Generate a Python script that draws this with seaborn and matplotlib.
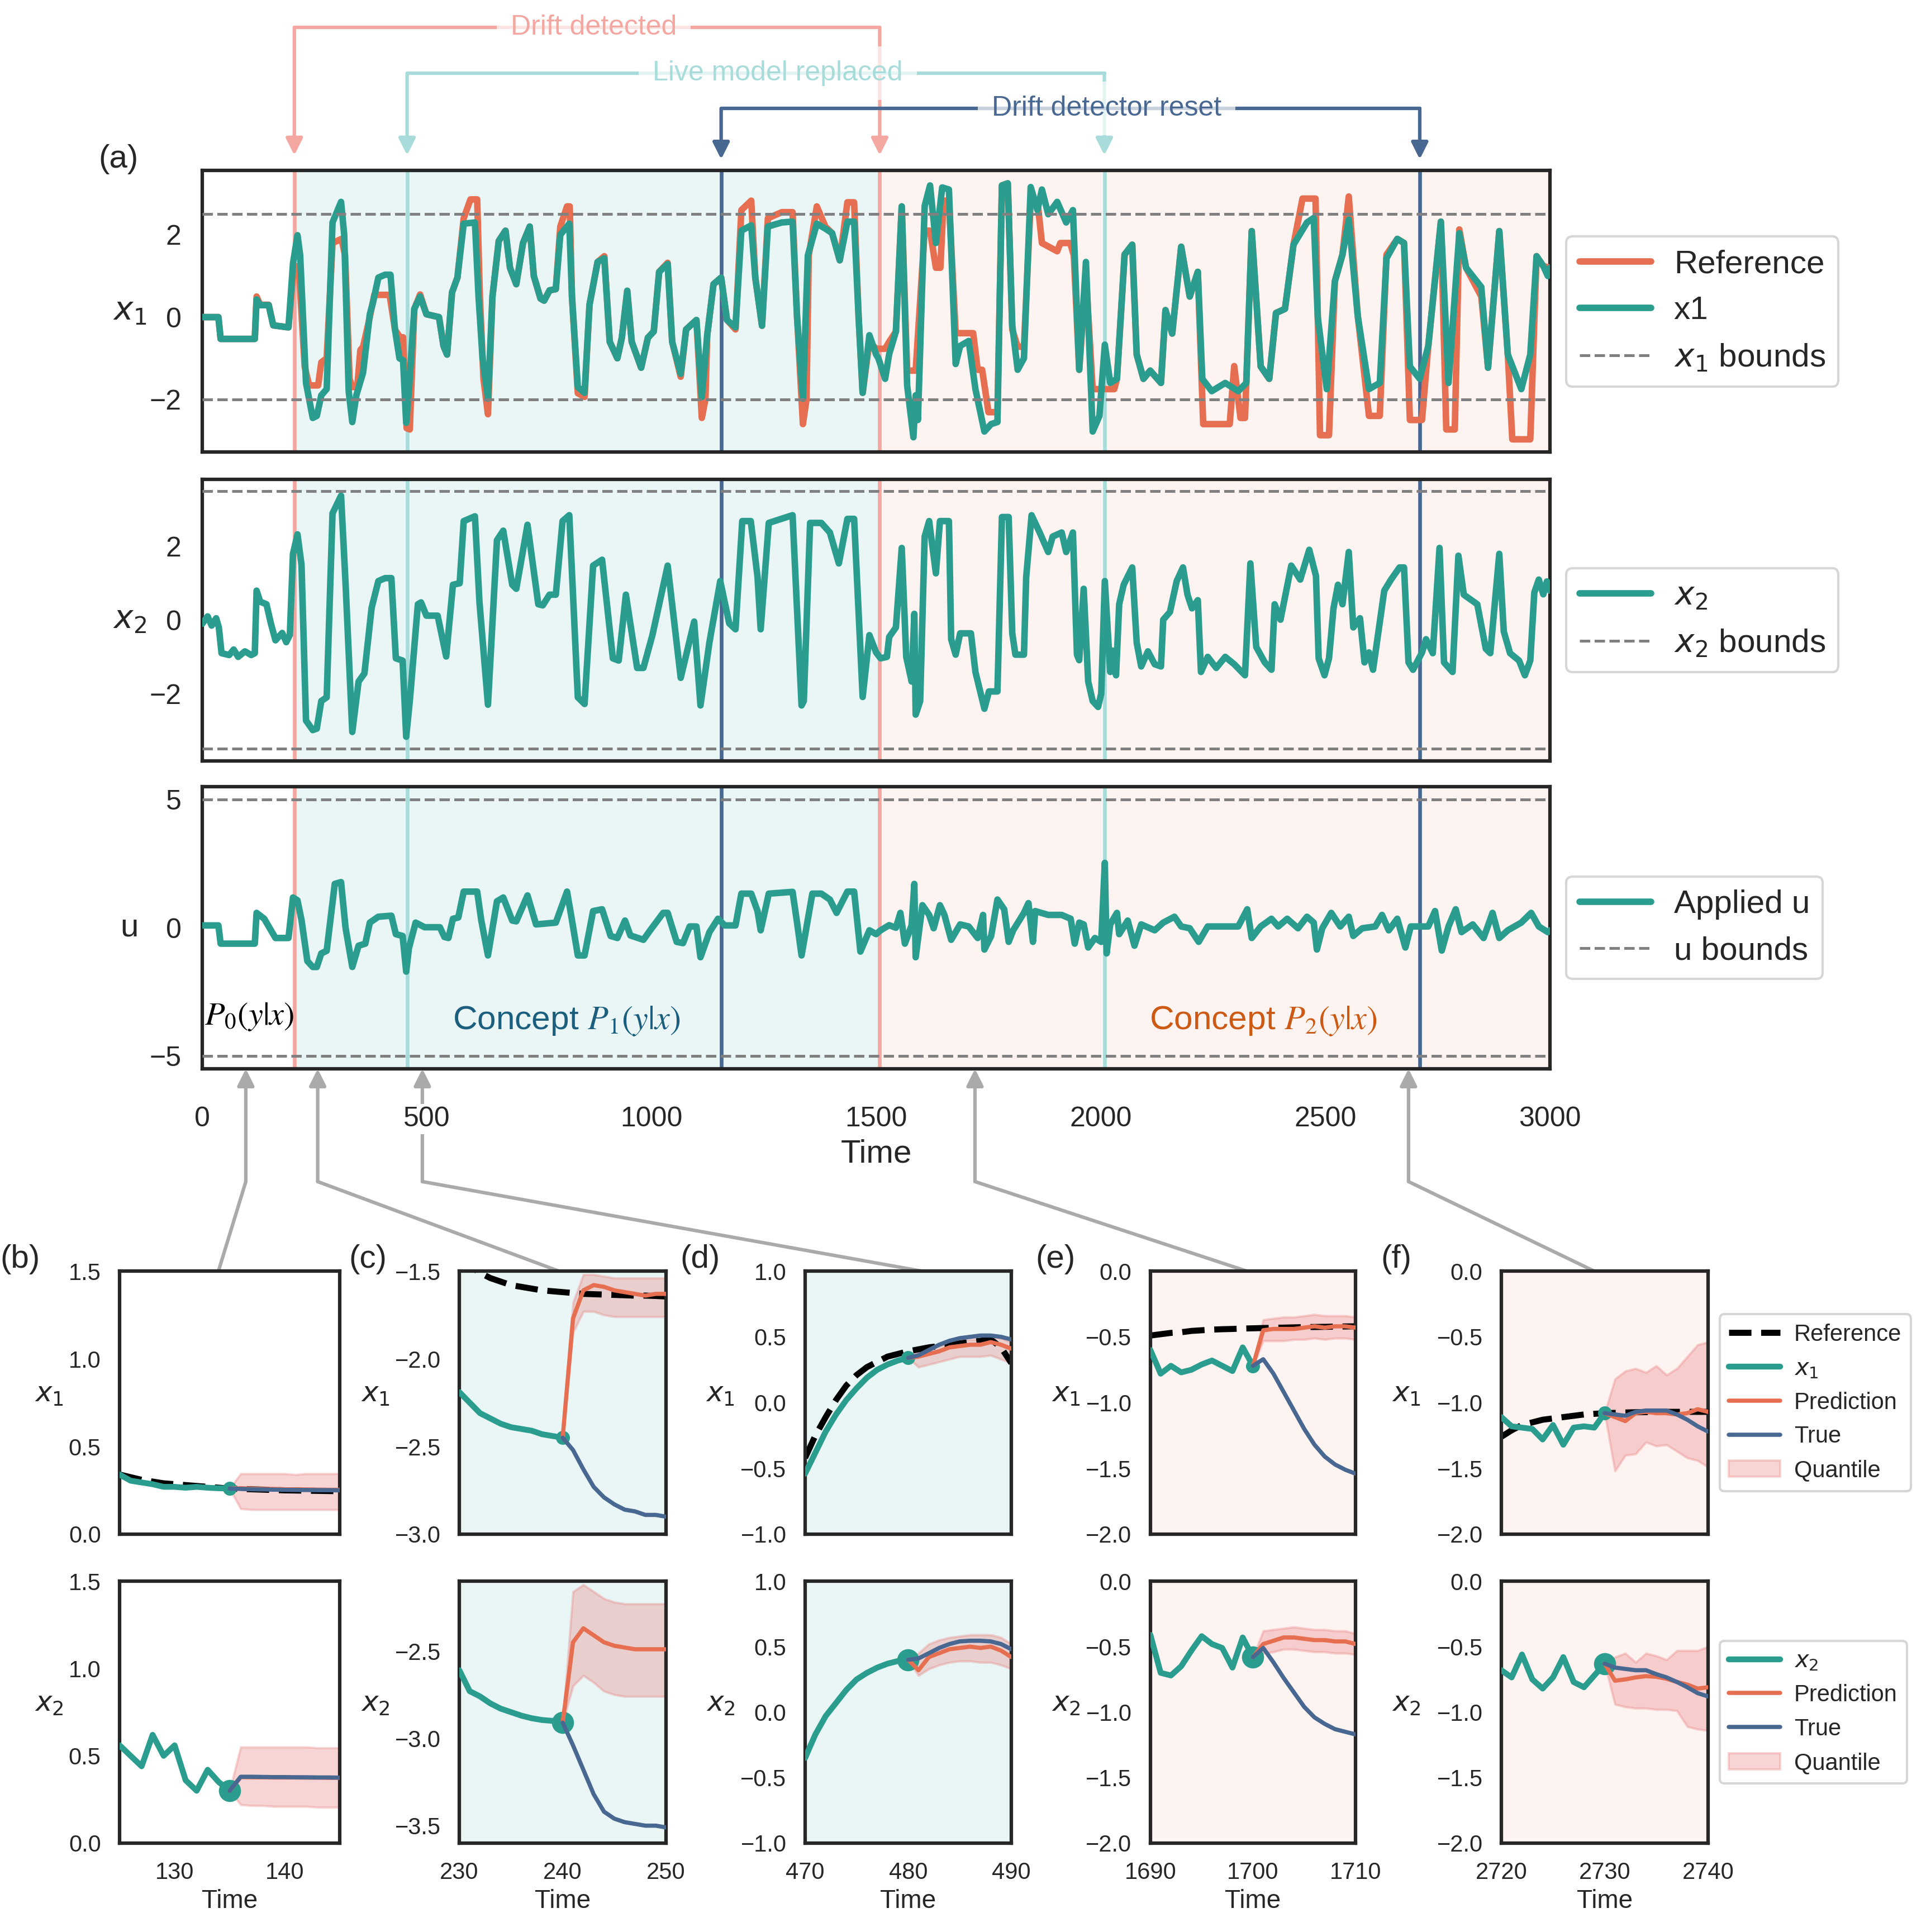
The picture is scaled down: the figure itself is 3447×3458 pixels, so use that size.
import numpy as np
import matplotlib.pyplot as plt
import seaborn as sns
from matplotlib.lines import Line2D
from matplotlib.patches import Patch, FancyArrowPatch
from matplotlib.transforms import blended_transform_factory

sns.set_theme(style='white')
plt.rcParams['font.family'] = ['Liberation Sans', 'DejaVu Sans']

TEAL = '#2A9D8F'
ORANGE = '#E76F51'
BLUE = '#486791'
PINK = '#F4A6A0'
LTEAL = '#A8DCDA'
GREY = '#808080'
QCOL = '#E87676'

# ---- events / bounds ----
drift_detected = [205, 1508]
model_replaced = [456, 2008]
detector_reset = [1155, 2710]
x1_bounds = [-2.0, 2.5]
x2_bounds = [-3.5, 3.5]
u_bounds = [-5.0, 5.0]

# ---- main series (time, value) ----
ref_pts = [(0,0.0),(36,0.0),(41,-0.53),(117,-0.53),(121,0.5),(129,0.3),(148,0.3),(158,-0.2),(192,-0.25),(202,1.0),
    (208,1.24),(215,1.2),(228,-1.2),(238,-1.66),(258,-1.66),(265,-1.1),(277,-1.0),(290,1.8),(310,1.9),(318,1.5),
    (328,-1.5),(334,-1.7),(345,-1.7),(352,-0.8),(358,-0.72),(373,0.0),(383,0.54),(417,0.54),(429,-0.3),(440,-0.49),
    (447,-0.49),(455,-2.7),(462,-2.73),(472,0.2),(485,0.55),(499,0.07),(527,0.0),(537,-0.7),(545,-0.91),(556,0.6),
    (568,0.96),(582,2.4),(597,2.86),(612,2.86),(618,0.5),(626,-1.5),(636,-2.36),(646,0.5),(660,1.85),(675,2.1),
    (685,1.2),(699,0.8),(714,1.8),(729,2.2),(738,1.0),(753,0.45),(761,0.4),(773,0.65),(787,0.68),(797,2.2),
    (812,2.69),(818,2.69),(823,0.5),(836,-1.85),(851,-1.94),(862,0.3),(880,1.34),(895,1.48),(907,-0.6),(924,-1.0),
    (934,-0.5),(946,0.64),(956,-0.6),(977,-1.23),(992,-0.5),(1005,-0.35),(1017,1.1),(1036,1.32),(1046,-0.6),(1065,-1.45),
    (1077,-0.3),(1100,-0.07),(1112,-2.45),(1120,-2.0),(1124,-0.44),(1138,0.8),(1155,0.96),(1168,-0.07),(1187,-0.3),(1200,2.6),
    (1222,2.83),(1231,0.96),(1246,-0.21),(1259,2.4),(1290,2.55),(1314,2.55),(1324,0.0),(1337,-2.6),(1345,-2.0),(1350,1.5),
    (1368,2.69),(1387,2.2),(1402,2.04),(1419,1.38),(1436,2.79),(1451,2.79),(1461,0.0),(1470,-1.84),(1485,-0.6),(1500,-0.77),
    (1520,-0.77),(1529,-0.6),(1544,-0.35),(1557,2.69),(1569,-1.3),(1588,-1.3),(1608,2.1),(1620,2.1),(1633,1.2),(1643,1.2),
    (1650,2.83),(1662,2.83),(1677,-0.39),(1716,-0.39),(1726,-1.28),(1736,-1.28),(1750,-2.31),(1770,-2.31),(1780,3.2),(1793,3.25),
    (1803,-0.3),(1815,-0.72),(1829,-0.72),(1844,2.83),(1859,2.83),(1869,1.8),(1903,1.6),(1910,1.8),(1932,1.8),(1940,1.5),
    (1952,-1.28),(1967,1.0),(1982,-1.75),(2030,-1.75),(2036,-1.5),(2053,1.52),(2070,1.76),(2080,-0.91),(2095,-1.5),(2110,-1.3),
    (2134,-1.6),(2144,0.17),(2159,-0.4),(2179,1.71),(2198,0.5),(2216,1.1),(2228,-2.6),(2287,-2.6),(2297,-1.19),(2311,-2.45),
    (2321,-2.45),(2336,2.09),(2356,-1.2),(2375,-1.5),(2390,0.1),(2410,0.2),(2429,1.76),(2449,2.88),(2478,2.88),(2488,-2.87),
    (2508,-2.87),(2521,0.87),(2538,1.52),(2552,2.93),(2572,0.03),(2597,-2.4),(2621,-2.4),(2636,1.52),(2660,1.9),(2675,1.8),
    (2688,-2.5),(2715,-2.5),(2729,-0.7),(2757,2.32),(2769,-2.73),(2788,-2.73),(2798,2.13),(2813,1.2),(2847,0.5),(2862,-1.23),
    (2887,2.09),(2906,-0.91),(2916,-2.97),(2956,-2.97),(2970,1.48),(2985,1.24),(3000,1.2)]

x1_pts = [(0,0.0),(36,0.0),(41,-0.53),(117,-0.53),(121,0.43),(129,0.29),(148,0.29),(158,-0.2),(192,-0.25),(202,1.3),
    (212,1.99),(218,1.5),(231,-1.6),(246,-2.45),(255,-2.4),(265,-1.9),(277,-1.75),(290,2.3),(309,2.8),(316,2.0),
    (326,-1.8),(334,-2.55),(343,-1.9),(358,-1.35),(373,0.07),(380,0.35),(392,0.96),(407,1.03),(419,1.03),(429,-0.3),
    (439,-1.0),(447,-1.05),(454,-2.57),(460,-1.8),(472,0.2),(485,0.5),(499,0.07),(527,0.0),(537,-0.7),(545,-0.91),
    (556,0.6),(568,0.96),(582,2.27),(607,2.3),(615,0.5),(624,-1.0),(636,-1.98),(646,0.5),(660,1.85),(675,2.1),
    (685,1.2),(699,0.8),(714,1.8),(729,2.2),(738,1.0),(753,0.45),(761,0.4),(773,0.65),(787,0.68),(797,2.0),
    (817,2.27),(823,0.5),(836,-1.7),(851,-1.84),(862,0.3),(880,1.34),(895,1.43),(907,-0.6),(924,-1.0),(934,-0.5),
    (946,0.64),(956,-0.6),(977,-1.23),(992,-0.5),(1005,-0.35),(1017,1.1),(1036,1.29),(1046,-0.6),(1065,-1.38),(1077,-0.3),
    (1100,-0.07),(1112,-1.94),(1124,-0.44),(1138,0.8),(1155,0.96),(1168,-0.07),(1187,-0.25),(1200,2.1),(1222,2.23),(1231,0.96),
    (1246,-0.21),(1259,2.2),(1290,2.3),(1314,2.32),(1324,0.0),(1337,-1.98),(1348,1.5),(1368,2.27),(1387,2.15),(1402,2.04),
    (1419,1.38),(1436,2.32),(1451,2.32),(1461,0.0),(1470,-1.84),(1485,-0.44),(1500,-0.91),(1505,-1.0),(1520,-1.5),(1529,-0.9),
    (1544,-0.35),(1557,2.69),(1569,-1.66),(1583,-2.92),(1588,-1.9),(1593,-2.5),(1608,2.7),(1620,3.2),(1633,1.8),(1647,3.15),
    (1662,3.1),(1677,-1.14),(1687,-0.7),(1706,-0.58),(1721,-1.75),(1741,-2.78),(1756,-2.6),(1770,-2.55),(1780,3.2),(1793,3.25),
    (1803,-0.2),(1815,-1.28),(1829,-1.0),(1844,3.16),(1859,2.6),(1869,3.1),(1883,2.5),(1903,2.8),(1923,2.3),(1938,2.6),
    (1952,-1.28),(1967,1.34),(1982,-2.78),(1997,-2.4),(2009,-0.67),(2021,-1.6),(2036,-1.5),(2053,1.52),(2070,1.76),(2080,-0.91),
    (2095,-1.5),(2110,-1.3),(2134,-1.6),(2144,0.17),(2159,-0.4),(2179,1.71),(2198,0.5),(2216,1.1),(2226,-1.5),(2247,-1.8),
    (2277,-1.6),(2306,-1.8),(2324,-1.6),(2336,2.09),(2356,-1.2),(2375,-1.5),(2390,0.1),(2410,0.2),(2429,1.76),(2459,2.3),
    (2474,2.41),(2483,0.0),(2503,-1.75),(2521,0.87),(2538,1.52),(2552,2.37),(2572,0.03),(2597,-1.75),(2621,-1.6),(2636,1.43),
    (2660,1.9),(2675,1.8),(2688,-1.2),(2710,-1.5),(2729,-0.7),(2757,2.32),(2774,-1.6),(2798,2.04),(2813,1.2),(2847,0.73),
    (2862,-1.23),(2887,2.09),(2906,-0.91),(2936,-1.75),(2956,-0.91),(2970,1.48),(2985,1.24),(2995,1.0),(3000,1.2)]

x2_pts = [(0,-0.1),(12,0.1),(21,-0.15),(31,0.05),(37,-0.2),(43,-0.9),(60,-0.95),(70,-0.8),(80,-1.0),(95,-0.85),
    (109,-0.95),(117,-0.9),(121,0.8),(129,0.5),(143,0.43),(153,-0.1),(163,-0.55),(178,-0.35),(187,-0.6),(195,-0.4),
    (202,1.8),(212,2.33),(221,1.5),(231,-2.73),(246,-2.99),(255,-2.95),(265,-2.2),(277,-2.1),(290,2.9),(309,3.38),
    (319,1.0),(334,-3.04),(348,-1.67),(361,-1.45),(377,0.33),(392,1.06),(407,1.14),(421,1.14),(431,-1.04),(446,-1.1),
    (454,-3.17),(462,-2.2),(480,0.43),(487,0.48),(499,0.12),(524,0.12),(543,-0.99),(558,0.96),(573,1.0),(582,2.69),
    (607,2.82),(617,0.5),(636,-2.3),(656,2.17),(670,2.43),(690,0.96),(699,0.85),(724,2.59),(748,0.43),(758,0.4),
    (773,0.69),(787,0.69),(802,2.69),(817,2.85),(836,-2.1),(851,-2.28),(870,1.48),(890,1.64),(914,-1.04),(927,-1.1),
    (943,0.69),(968,-1.3),(982,-1.3),(1002,-0.41),(1036,1.48),(1065,-1.57),(1095,-0.04),(1109,-2.32),(1129,-0.6),(1153,1.06),
    (1173,-0.09),(1187,-0.25),(1202,2.69),(1221,2.69),(1236,1.17),(1243,-0.25),(1261,2.64),(1314,2.85),(1334,-2.32),(1339,-2.2),
    (1353,2.64),(1378,2.64),(1397,2.38),(1417,1.54),(1436,2.75),(1451,2.75),(1470,-2.09),(1485,-0.41),(1500,-0.88),(1510,-1.04),
    (1524,-1.0),(1529,-0.46),(1544,-0.2),(1557,1.96),(1567,-1.0),(1579,-1.67),(1585,0.17),(1588,-2.57),(1598,-2.2),(1608,2.27),
    (1618,2.69),(1633,1.27),(1642,2.69),(1662,2.69),(1667,-0.52),(1677,-0.94),(1687,-0.36),(1711,-0.36),(1721,-1.41),(1741,-2.41),
    (1751,-1.94),(1770,-1.94),(1780,2.8),(1795,2.8),(1803,-0.36),(1810,-0.94),(1829,-0.94),(1834,1.17),(1846,2.85),(1864,2.38),
    (1883,1.85),(1893,2.27),(1913,2.38),(1923,1.85),(1938,2.38),(1947,-0.94),(1952,-1.09),(1962,0.85),(1972,-1.67),(1982,-2.2),
    (1994,-2.36),(2001,-2.0),(2009,1.06),(2021,-1.41),(2026,-0.83),(2034,-1.5),(2041,0.43),(2051,0.96),(2070,1.43),(2080,-0.62),
    (2090,-1.26),(2105,-0.85),(2120,-1.2),(2134,-1.26),(2139,0.01),(2154,0.22),(2169,1.06),(2183,1.43),(2193,0.69),(2203,0.32),
    (2216,0.54),(2223,-1.41),(2238,-1.0),(2257,-1.3),(2277,-1.0),(2297,-1.2),(2321,-1.5),(2333,1.54),(2346,-0.73),(2365,-1.15),
    (2380,-1.35),(2387,0.43),(2400,0.01),(2424,1.48),(2444,1.1),(2464,1.91),(2479,1.2),(2485,-1.04),(2498,-1.5),(2508,-1.04),
    (2518,0.32),(2528,0.96),(2538,0.43),(2552,1.85),(2562,-0.2),(2577,0.05),(2587,-1.15),(2597,-0.88),(2606,-1.35),(2631,0.8),
    (2646,1.1),(2665,1.43),(2675,1.43),(2685,-1.15),(2695,-1.35),(2715,-0.88),(2724,-0.52),(2739,-0.9),(2754,1.96),(2764,-1.15),
    (2783,-1.41),(2796,1.75),(2808,0.69),(2838,0.43),(2857,-0.78),(2867,-0.9),(2887,1.8),(2897,-0.31),(2911,-0.9),(2931,-1.1),
    (2944,-1.5),(2956,-1.1),(2965,0.75),(2975,1.1),(2985,0.7),(2993,1.05),(3000,0.8)]

u_pts = [(0,0.09),(36,0.09),(41,-0.62),(117,-0.62),(121,0.58),(138,0.35),(153,-0.1),(163,-0.4),(192,-0.4),(202,1.18),
    (212,1.07),(221,0.3),(234,-1.3),(246,-1.53),(255,-1.53),(265,-1.0),(277,-0.9),(295,1.71),(309,1.78),(319,0.0),
    (334,-1.53),(348,-0.7),(363,-0.62),(373,0.2),(392,0.43),(421,0.47),(431,-0.25),(446,-0.32),(454,-1.71),(460,-0.8),
    (475,0.2),(495,0.02),(529,0.02),(539,-0.36),(548,-0.4),(558,0.35),(570,0.4),(582,1.41),(612,1.41),(621,0.3),
    (636,-1.08),(656,1.03),(670,1.18),(690,0.28),(699,0.25),(724,1.26),(743,0.13),(787,0.2),(812,1.41),(821,0.5),
    (836,-1.08),(851,-1.08),(870,0.65),(890,0.72),(909,-0.32),(924,-0.4),(941,0.28),(953,-0.3),(982,-0.47),(997,-0.1),
    (1026,0.58),(1036,0.58),(1056,-0.55),(1070,-0.6),(1085,0.05),(1100,0.05),(1109,-1.15),(1129,-0.17),(1148,0.35),(1163,0.09),
    (1187,0.09),(1200,1.33),(1222,1.33),(1236,0.65),(1243,-0.1),(1261,1.33),(1314,1.4),(1324,0.2),(1334,-1.08),(1358,1.33),
    (1378,1.33),(1397,1.1),(1412,0.58),(1436,1.41),(1451,1.41),(1465,-0.93),(1485,-0.1),(1500,-0.25),(1510,-0.1),(1529,0.1),
    (1544,0.0),(1554,0.58),(1564,-0.62),(1579,0.1),(1585,1.71),(1588,-1.15),(1603,0.88),(1618,0.5),(1628,-0.02),(1642,0.88),
    (1652,0.5),(1667,-0.47),(1687,0.13),(1706,0.05),(1726,-0.4),(1738,0.5),(1741,-0.85),(1756,-0.32),(1770,1.1),(1785,0.72),
    (1795,-0.55),(1805,-0.1),(1829,0.58),(1839,0.96),(1849,-0.55),(1854,0.65),(1883,0.5),(1913,0.5),(1933,0.35),(1942,-0.62),
    (1952,0.2),(1962,0.13),(1972,-0.77),(1987,-0.4),(2001,-0.55),(2009,2.53),(2013,-1.0),(2021,0.13),(2036,0.58),(2041,-0.25),
    (2060,0.28),(2075,-0.7),(2090,0.13),(2120,-0.1),(2139,0.2),(2164,0.43),(2179,0.05),(2198,-0.02),(2218,-0.55),(2238,0.05),
    (2277,0.05),(2306,0.05),(2326,0.72),(2336,-0.4),(2356,0.05),(2380,0.35),(2395,0.05),(2415,0.35),(2439,-0.02),(2459,0.43),
    (2474,0.2),(2481,-0.85),(2493,-0.02),(2513,0.58),(2533,0.05),(2552,0.43),(2562,-0.32),(2582,-0.02),(2611,0.05),(2626,0.5),
    (2641,-0.1),(2660,0.35),(2678,-0.77),(2690,0.05),(2729,0.05),(2744,0.65),(2759,-0.89),(2774,0.05),(2790,0.72),(2803,-0.17),
    (2828,0.13),(2852,-0.4),(2872,0.58),(2887,-0.4),(2906,-0.1),(2936,0.2),(2958,0.58),(2975,0.05),(2995,-0.17),(3000,-0.1)]

# ---- zoom windows: start of 20-step window; forecast starts 10 steps in ----
win_start = [125, 230, 470, 1690, 2720]

b_ref = [0.34,0.325,0.31,0.30,0.29,0.285,0.28,0.275,0.27,0.265,0.26,0.258,0.256,0.254,0.252,0.25,0.249,0.248,0.247,0.246,0.245]
b_x1 = [0.34,0.305,0.295,0.285,0.27,0.27,0.265,0.27,0.265,0.262,0.26]
b_x1_pred = [0.26,0.262,0.26,0.258,0.258,0.256,0.255,0.255,0.254,0.253,0.253]
b_x1_true = [0.26,0.258,0.256,0.255,0.254,0.253,0.252,0.252,0.251,0.251,0.25]
b_x1_lo = [0.26,0.145,0.14,0.14,0.14,0.14,0.14,0.14,0.14,0.14,0.14]
b_x1_hi = [0.26,0.345,0.345,0.345,0.345,0.345,0.34,0.345,0.345,0.345,0.345]
b_x2 = [0.56,0.50,0.44,0.62,0.50,0.56,0.36,0.30,0.42,0.35,0.30]
b_x2_pred = [0.30,0.378,0.377,0.377,0.376,0.376,0.376,0.375,0.375,0.374,0.374]
b_x2_true = [0.30,0.38,0.38,0.379,0.378,0.378,0.377,0.377,0.376,0.376,0.375]
b_x2_lo = [0.30,0.22,0.215,0.215,0.21,0.21,0.21,0.21,0.205,0.205,0.205]
b_x2_hi = [0.30,0.55,0.55,0.55,0.55,0.55,0.55,0.55,0.545,0.545,0.545]

c_ref = [-1.42,-1.47,-1.51,-1.54,-1.56,-1.58,-1.59,-1.60,-1.61,-1.615,-1.62,-1.625,-1.63,-1.632,-1.634,-1.636,-1.638,-1.64,-1.64,-1.642,-1.645]
c_x1 = [-2.19,-2.25,-2.31,-2.34,-2.37,-2.39,-2.40,-2.41,-2.43,-2.44,-2.45]
c_x1_pred = [-2.45,-1.77,-1.61,-1.58,-1.59,-1.61,-1.62,-1.63,-1.64,-1.63,-1.63]
c_x1_true = [-2.45,-2.52,-2.63,-2.73,-2.79,-2.83,-2.86,-2.87,-2.89,-2.89,-2.90]
c_x1_lo = [-2.45,-1.85,-1.73,-1.73,-1.75,-1.76,-1.76,-1.76,-1.76,-1.76,-1.76]
c_x1_hi = [-2.45,-1.68,-1.52,-1.52,-1.53,-1.54,-1.54,-1.54,-1.54,-1.54,-1.54]
c_x2 = [-2.61,-2.73,-2.76,-2.80,-2.83,-2.85,-2.87,-2.885,-2.895,-2.90,-2.91]
c_x2_pred = [-2.91,-2.45,-2.37,-2.41,-2.45,-2.47,-2.48,-2.49,-2.49,-2.49,-2.49]
c_x2_true = [-2.91,-3.04,-3.18,-3.32,-3.42,-3.46,-3.48,-3.49,-3.50,-3.50,-3.51]
c_x2_lo = [-2.91,-2.70,-2.64,-2.68,-2.73,-2.75,-2.76,-2.76,-2.76,-2.76,-2.76]
c_x2_hi = [-2.91,-2.16,-2.12,-2.16,-2.20,-2.22,-2.23,-2.23,-2.23,-2.23,-2.23]

d_ref = [-0.42,-0.25,-0.11,0.02,0.13,0.21,0.27,0.31,0.35,0.37,0.39,0.405,0.42,0.43,0.44,0.45,0.46,0.47,0.48,0.42,0.30]
d_x1 = [-0.54,-0.38,-0.22,-0.09,0.02,0.11,0.19,0.25,0.29,0.32,0.34]
d_x1_pred = [0.34,0.35,0.37,0.39,0.42,0.43,0.44,0.44,0.46,0.44,0.41]
d_x1_true = [0.34,0.36,0.40,0.44,0.47,0.49,0.50,0.51,0.51,0.50,0.48]
d_x1_lo = [0.34,0.27,0.29,0.31,0.33,0.35,0.35,0.35,0.36,0.33,0.30]
d_x1_hi = [0.34,0.39,0.41,0.43,0.46,0.47,0.48,0.48,0.50,0.49,0.46]
d_x2 = [-0.35,-0.17,-0.03,0.07,0.17,0.25,0.30,0.34,0.37,0.39,0.40]
d_x2_pred = [0.40,0.32,0.42,0.45,0.48,0.49,0.50,0.49,0.50,0.47,0.42]
d_x2_true = [0.40,0.41,0.45,0.49,0.52,0.54,0.545,0.545,0.54,0.52,0.48]
d_x2_lo = [0.40,0.28,0.33,0.36,0.38,0.39,0.39,0.38,0.38,0.36,0.33]
d_x2_hi = [0.40,0.45,0.52,0.55,0.57,0.58,0.59,0.59,0.59,0.57,0.52]

e_ref = [-0.49,-0.48,-0.47,-0.465,-0.455,-0.45,-0.445,-0.442,-0.44,-0.437,-0.435,-0.433,-0.431,-0.43,-0.428,-0.426,-0.425,-0.424,-0.422,-0.421,-0.42]
e_x1 = [-0.60,-0.78,-0.72,-0.77,-0.75,-0.71,-0.68,-0.72,-0.76,-0.58,-0.72]
e_x1_pred = [-0.72,-0.45,-0.44,-0.44,-0.44,-0.43,-0.42,-0.43,-0.42,-0.42,-0.43]
e_x1_true = [-0.72,-0.67,-0.78,-0.92,-1.06,-1.20,-1.32,-1.41,-1.47,-1.51,-1.54]
e_x1_lo = [-0.72,-0.53,-0.53,-0.53,-0.52,-0.52,-0.51,-0.52,-0.51,-0.51,-0.52]
e_x1_hi = [-0.72,-0.37,-0.36,-0.35,-0.35,-0.34,-0.33,-0.34,-0.34,-0.34,-0.35]
e_x2 = [-0.41,-0.70,-0.72,-0.65,-0.53,-0.42,-0.48,-0.51,-0.66,-0.43,-0.58]
e_x2_pred = [-0.58,-0.48,-0.455,-0.43,-0.43,-0.44,-0.45,-0.45,-0.46,-0.46,-0.48]
e_x2_true = [-0.58,-0.51,-0.62,-0.74,-0.85,-0.96,-1.04,-1.09,-1.13,-1.15,-1.17]
e_x2_lo = [-0.58,-0.55,-0.54,-0.52,-0.52,-0.53,-0.54,-0.54,-0.55,-0.55,-0.56]
e_x2_hi = [-0.58,-0.38,-0.37,-0.36,-0.35,-0.36,-0.37,-0.37,-0.38,-0.38,-0.40]

f_ref = [-1.26,-1.21,-1.17,-1.15,-1.13,-1.12,-1.11,-1.10,-1.09,-1.085,-1.08,-1.078,-1.075,-1.073,-1.072,-1.07,-1.07,-1.07,-1.07,-1.07,-1.07]
f_x1 = [-1.11,-1.18,-1.19,-1.20,-1.28,-1.17,-1.32,-1.19,-1.18,-1.19,-1.08]
f_x1_pred = [-1.08,-1.11,-1.14,-1.08,-1.07,-1.08,-1.08,-1.09,-1.08,-1.05,-1.07]
f_x1_true = [-1.08,-1.09,-1.10,-1.07,-1.06,-1.06,-1.06,-1.09,-1.13,-1.18,-1.22]
f_x1_lo = [-1.08,-1.52,-1.40,-1.39,-1.30,-1.33,-1.32,-1.37,-1.42,-1.44,-1.49]
f_x1_hi = [-1.08,-0.82,-0.76,-0.74,-0.77,-0.72,-0.79,-0.74,-0.65,-0.56,-0.54]
f_x2 = [-0.68,-0.735,-0.56,-0.75,-0.82,-0.735,-0.58,-0.77,-0.81,-0.72,-0.63]
f_x2_pred = [-0.63,-0.76,-0.75,-0.735,-0.725,-0.73,-0.745,-0.77,-0.79,-0.82,-0.81]
f_x2_true = [-0.63,-0.66,-0.67,-0.68,-0.68,-0.71,-0.735,-0.77,-0.81,-0.855,-0.88]
f_x2_lo = [-0.63,-0.94,-0.96,-0.97,-0.97,-0.98,-0.98,-0.99,-1.11,-1.13,-1.14]
f_x2_hi = [-0.63,-0.58,-0.55,-0.62,-0.55,-0.57,-0.60,-0.53,-0.53,-0.53,-0.50]

# times in the main plot that the zoom arrows point at
arrow_times = [97, 257, 490, 1720, 2685]


def style_axes(ax):
    for s in ax.spines.values():
        s.set_linewidth(1.5)
        s.set_color('.15')


fig = plt.figure(figsize=(3447 / 300, 3458 / 300), dpi=300)

ax1 = fig.add_axes([0.1050, 0.7660, 0.6998, 0.1457])
ax2 = fig.add_axes([0.1050, 0.6061, 0.6998, 0.1459])
ax3 = fig.add_axes([0.1050, 0.4468, 0.6998, 0.1460])

series = [
    (ax1, x1_pts, x1_bounds, (-3.28, 3.56), [-2, 0, 2], '$x_1$'),
    (ax2, x2_pts, x2_bounds, (-3.83, 3.83), [-2, 0, 2], '$x_2$'),
    (ax3, u_pts, u_bounds, (-5.5, 5.5), [-5, 0, 5], 'u'),
]

for ax, pts, bounds, ylim, yt, ylab in series:
    ax.axvspan(drift_detected[0], drift_detected[1], color=LTEAL, alpha=0.25, lw=0, zorder=0)
    ax.axvspan(drift_detected[1], 3000, color=ORANGE, alpha=0.07, lw=0, zorder=0)
    for t in drift_detected:
        ax.axvline(t, color=PINK, lw=1.6, zorder=1)
    for t in model_replaced:
        ax.axvline(t, color=LTEAL, lw=1.6, zorder=1)
    for t in detector_reset:
        ax.axvline(t, color=BLUE, lw=1.6, zorder=1)
    if ax is ax1:
        rt, rv = np.array(ref_pts).T
        sns.lineplot(x=rt, y=rv, ax=ax, color=ORANGE, linewidth=2.8, estimator=None, zorder=3)
    st, sv = np.array(pts).T
    sns.lineplot(x=st, y=sv, ax=ax, color=TEAL, linewidth=2.8, estimator=None, zorder=4)
    for b in bounds:
        ax.axhline(b, color=GREY, ls='--', lw=1.2, zorder=5)
    ax.set_xlim(0, 3000)
    ax.set_ylim(*ylim)
    ax.set_yticks(yt)
    ax.set_xticks([0, 500, 1000, 1500, 2000, 2500, 3000])
    ax.tick_params(axis='both', length=0, labelsize=12)
    ax.tick_params(axis='y', pad=9)
    ax.set_ylabel(ylab, rotation=0, fontsize=14, ha='center', va='center')
    ax.yaxis.set_label_coords(-0.054, 0.5)
    style_axes(ax)

ax1.tick_params(labelbottom=False)
ax2.tick_params(labelbottom=False)
ax1.set_xlabel('')
ax2.set_xlabel('')
ax3.tick_params(axis='x', pad=16)
ax3.set_xlabel('Time', fontsize=14, labelpad=3)
for lab in ax3.get_xticklabels():
    lab.set_bbox(dict(facecolor='white', edgecolor='none', pad=1))

leg_kw = dict(loc='center left', bbox_to_anchor=(1.0, 0.5), fontsize=14, handlelength=2.2, handletextpad=0.7)
ax1.legend(handles=[Line2D([], [], color=ORANGE, lw=2.8), Line2D([], [], color=TEAL, lw=2.8),
                    Line2D([], [], color=GREY, ls='--', lw=1.2)],
           labels=['Reference', 'x1', '$x_1$ bounds'], **leg_kw)
ax2.legend(handles=[Line2D([], [], color=TEAL, lw=2.8), Line2D([], [], color=GREY, ls='--', lw=1.2)],
           labels=['$x_2$', '$x_2$ bounds'], **leg_kw)
ax3.legend(handles=[Line2D([], [], color=TEAL, lw=2.8), Line2D([], [], color=GREY, ls='--', lw=1.2)],
           labels=['Applied u', 'u bounds'], **leg_kw)

# concept labels
ax3.text(5, -3.47, '$P_0(y|x)$', fontsize=14, ha='left', va='center', color='black', math_fontfamily='stix')
ax3.text(810, -3.63, 'Concept $P_1(y|x)$', fontsize=14.5, ha='center', va='center', color='#1B5E7E', math_fontfamily='stix')
ax3.text(2361, -3.63, 'Concept $P_2(y|x)$', fontsize=14.5, ha='center', va='center', color='#CC5A14', math_fontfamily='stix')

# event brackets above the top panel
trans = blended_transform_factory(ax1.transData, ax1.transAxes)
brackets = [
    (drift_detected, 'Drift detected', PINK, 1.5085, 1.0546, 871),
    (model_replaced, 'Live model replaced', LTEAL, 1.3458, 1.0546, 1281),
    (detector_reset, 'Drift detector reset', BLUE, 1.2208, 1.0403, 2013),
]
for (ta, tb), label, col, yh, ytip, tc in brackets:
    ax1.plot([ta, tb], [yh, yh], transform=trans, color=col, lw=1.5, clip_on=False, zorder=2)
    for t in (ta, tb):
        ax1.annotate('', xy=(t, ytip), xytext=(t, yh), xycoords=trans, textcoords=trans,
                     arrowprops=dict(arrowstyle='-|>,head_length=0.4,head_width=0.2', color=col, lw=1.5,
                                     shrinkA=0, shrinkB=0, mutation_scale=15), zorder=2)
    ax1.text(tc, yh, label, transform=trans, ha='center', va='center', fontsize=12, color=col, zorder=6,
             bbox=dict(boxstyle='square,pad=0.5', facecolor='white', edgecolor='none', alpha=0.7), clip_on=False)
ax1.set_xlim(0, 3000)
ax1.set_ylim(-3.28, 3.56)

# ---- zoom panels ----
lefts = [0.0621, 0.2385, 0.4180, 0.5973, 0.7795]
widths = [0.1143, 0.1073, 0.1071, 0.1065, 0.1073]
faces = [None, LTEAL, LTEAL, ORANGE, ORANGE]
face_alpha = [0, 0.25, 0.25, 0.07, 0.07]
ylab_x = [-0.32, -0.405, -0.41, -0.41, -0.46]
letters = ['(b)', '(c)', '(d)', '(e)', '(f)']
letter_x = [0.0, 0.181, 0.3532, 0.5378, 0.7169]
arrow_ends = [0.449, 0.481, 0.564, 0.469, 0.449]

top_data = [
    (b_ref, b_x1, b_x1_pred, b_x1_true, b_x1_lo, b_x1_hi),
    (c_ref, c_x1, c_x1_pred, c_x1_true, c_x1_lo, c_x1_hi),
    (d_ref, d_x1, d_x1_pred, d_x1_true, d_x1_lo, d_x1_hi),
    (e_ref, e_x1, e_x1_pred, e_x1_true, e_x1_lo, e_x1_hi),
    (f_ref, f_x1, f_x1_pred, f_x1_true, f_x1_lo, f_x1_hi),
]
bot_data = [
    (b_x2, b_x2_pred, b_x2_true, b_x2_lo, b_x2_hi),
    (c_x2, c_x2_pred, c_x2_true, c_x2_lo, c_x2_hi),
    (d_x2, d_x2_pred, d_x2_true, d_x2_lo, d_x2_hi),
    (e_x2, e_x2_pred, e_x2_true, e_x2_lo, e_x2_hi),
    (f_x2, f_x2_pred, f_x2_true, f_x2_lo, f_x2_hi),
]
top_ylims = [(0, 1.5), (-3.0, -1.5), (-1, 1), (-2, 0), (-2, 0)]
top_yticks = [[0, 0.5, 1.0, 1.5], [-3.0, -2.5, -2.0, -1.5], [-1, -0.5, 0, 0.5, 1], [-2, -1.5, -1, -0.5, 0], [-2, -1.5, -1, -0.5, 0]]
bot_ylims = [(0, 1.5), (-3.6, -2.1), (-1, 1), (-2, 0), (-2, 0)]
bot_yticks = [[0, 0.5, 1.0, 1.5], [-3.5, -3.0, -2.5], [-1, -0.5, 0, 0.5, 1], [-2, -1.5, -1, -0.5, 0], [-2, -1.5, -1, -0.5, 0]]


def draw_zoom(ax, ws, ref, hist, pred, true, lo, hi, ms):
    t_all = np.arange(ws, ws + 21)
    t_hist = np.arange(ws, ws + 11)
    t_fc = np.arange(ws + 10, ws + 21)
    if ref is not None:
        sns.lineplot(x=t_all, y=ref, ax=ax, color='black', linewidth=2.6, linestyle='--', estimator=None, zorder=2)
    ax.fill_between(t_fc, lo, hi, color=QCOL, alpha=0.3, lw=1, zorder=1)
    sns.lineplot(x=t_hist, y=hist, ax=ax, color=TEAL, linewidth=2.5, estimator=None, zorder=3)
    ax.plot([t_hist[-1]], [hist[-1]], 'o', color=TEAL, ms=ms, mew=0, zorder=4)
    sns.lineplot(x=t_fc, y=pred, ax=ax, color=ORANGE, linewidth=1.8, estimator=None, zorder=5)
    sns.lineplot(x=t_fc, y=true, ax=ax, color=BLUE, linewidth=1.8, estimator=None, zorder=6)
    ax.set_xlim(ws, ws + 20)


top_axes = []
for i in range(5):
    ws = win_start[i]
    axt = fig.add_axes([lefts[i], 0.2059, widths[i], 0.1362])
    axb = fig.add_axes([lefts[i], 0.0460, widths[i], 0.1356])
    top_axes.append(axt)
    for ax in (axt, axb):
        if faces[i] is not None:
            ax.axvspan(ws, ws + 20, color=faces[i], alpha=face_alpha[i], lw=0, zorder=0)
    ref, hist, pred, true, lo, hi = top_data[i]
    draw_zoom(axt, ws, ref, hist, pred, true, lo, hi, 6)
    hist, pred, true, lo, hi = bot_data[i]
    draw_zoom(axb, ws, None, hist, pred, true, lo, hi, 9.5)
    axt.set_ylim(*top_ylims[i])
    axt.set_yticks(top_yticks[i])
    axb.set_ylim(*bot_ylims[i])
    axb.set_yticks(bot_yticks[i])
    ticks = [130, 140] if i == 0 else [ws, ws + 10, ws + 20]
    for ax, ylab in ((axt, '$x_1$'), (axb, '$x_2$')):
        ax.set_xticks(ticks)
        ax.tick_params(axis='both', length=0, labelsize=10, pad=8)
        ax.set_ylabel(ylab, rotation=0, fontsize=12, ha='center', va='center')
        ax.yaxis.set_label_coords(ylab_x[i], 0.53)
        style_axes(ax)
    axt.tick_params(labelbottom=False)
    axt.set_xlabel('')
    axb.set_xlabel('Time', fontsize=11, labelpad=2)
    fig.text(letter_x[i], 0.3482, letters[i], fontsize=14, ha='left', va='center')

    if i == 4:
        small_leg = dict(loc='center left', bbox_to_anchor=(1.0, 0.5), fontsize=10, handlelength=2.2, handletextpad=0.6)
        axt.legend(handles=[Line2D([], [], color='black', lw=2.6, ls='--'), Line2D([], [], color=TEAL, lw=2.5),
                            Line2D([], [], color=ORANGE, lw=1.8), Line2D([], [], color=BLUE, lw=1.8),
                            Patch(facecolor=QCOL, alpha=0.3, edgecolor=QCOL)],
                   labels=['Reference', '$x_1$', 'Prediction', 'True', 'Quantile'], **small_leg)
        axb.legend(handles=[Line2D([], [], color=TEAL, lw=2.5), Line2D([], [], color=ORANGE, lw=1.8),
                            Line2D([], [], color=BLUE, lw=1.8), Patch(facecolor=QCOL, alpha=0.3, edgecolor=QCOL)],
                   labels=['$x_2$', 'Prediction', 'True', 'Quantile'], **small_leg)

fig.text(0.0512, 0.9177, '(a)', fontsize=14, ha='left', va='center')

# ---- grey arrows from zoom panels to the main time axis ----
inv = fig.transFigure.inverted()
bend_y = 0.3884
for axt, ta, fx in zip(top_axes, arrow_times, arrow_ends):
    tip = inv.transform(ax3.transData.transform((ta, -5.5)))
    end = inv.transform(axt.transAxes.transform((fx, 1.0)))
    fig.add_artist(Line2D([end[0], tip[0]], [end[1], bend_y], transform=fig.transFigure,
                          color='#AAAAAA', lw=1.5, zorder=-1))
    fig.add_artist(FancyArrowPatch((tip[0], bend_y), (tip[0], tip[1]), transform=fig.transFigure,
                                   arrowstyle='-|>,head_length=0.4,head_width=0.2', mutation_scale=15,
                                   color='#AAAAAA', lw=1.5, shrinkA=0, shrinkB=0, zorder=-1))

fig.savefig('out.png', dpi=300)
